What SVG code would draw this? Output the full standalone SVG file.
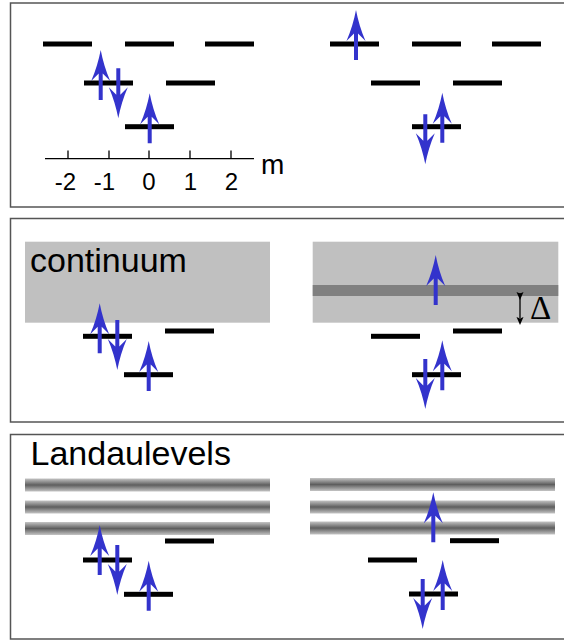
<svg xmlns="http://www.w3.org/2000/svg" xmlns:xlink="http://www.w3.org/1999/xlink" width="564" height="640" viewBox="0 0 564 640">
<style>
.frame{fill:#fff;stroke:#555;stroke-width:1.5}
.lvl{fill:#000}
.spin{fill:#3333cc}
.cont{fill:#c0c0c0}
.band{fill:url(#bandGrad)}
.lbl{font-family:"Liberation Sans",Arial,sans-serif;fill:#000}
.axis{stroke:#000;stroke-width:1.3;fill:none}
</style>
<defs>
<linearGradient id="bandGrad" x1="0" y1="0" x2="0" y2="1">
<stop offset="0" stop-color="#c4c4c4"/>
<stop offset="0.5" stop-color="#5e5e5e"/>
<stop offset="1" stop-color="#c4c4c4"/>
</linearGradient>
<path id="up" d="M0,0 C2,10 5,21 9.5,31 L2,23.5 L2,50 L-2,50 L-2,23.5 L-9.5,31 C-5,21 -2,10 0,0 Z"/>
<marker id="sh" viewBox="0 0 8 10" refX="1" refY="5" markerWidth="8" markerHeight="10" markerUnits="userSpaceOnUse" orient="auto">
<path d="M0,1.5 L8,5 L0,8.5 L1.5,5 Z" fill="#000"/>
</marker>
</defs>
<rect class="frame" x="10.5" y="3" width="560" height="204"/>
<rect class="frame" x="10.5" y="218.5" width="560" height="203.5"/>
<rect class="frame" x="10.5" y="434.5" width="560" height="204.5"/>

<g id="panel1-left">
<rect class="lvl" x="43" y="41.5" width="49" height="5"/>
<rect class="lvl" x="125" y="41.5" width="49" height="5"/>
<rect class="lvl" x="205" y="41.5" width="49" height="5"/>
<rect class="lvl" x="84" y="80.5" width="49" height="5"/>
<rect class="lvl" x="166" y="80.5" width="49" height="5"/>
<rect class="lvl" x="125" y="124.2" width="49" height="5"/>
<use href="#up" class="spin" transform="translate(100.7,50)"/>
<use href="#up" class="spin" transform="translate(118.3,118.3) rotate(180)"/>
<use href="#up" class="spin" transform="translate(149.7,93.3)"/>
</g>
<g id="axis">
<path class="axis" d="M45,158.7 H254 M68,150.5 V158.7 M109,150.5 V158.7 M149,150.5 V158.7 M190,150.5 V158.7 M231,150.5 V158.7"/>
<g class="lbl" font-size="24" text-anchor="middle">
<text x="65.5" y="189.5">-2</text>
<text x="104.5" y="189.5">-1</text>
<text x="149" y="189.5">0</text>
<text x="190.5" y="189.5">1</text>
<text x="231.5" y="189.5">2</text>
</g>
<text class="lbl" x="261" y="173.5" font-size="28">m</text>
</g>
<g id="panel1-right">
<rect class="lvl" x="330" y="41.5" width="49" height="5"/>
<rect class="lvl" x="412" y="41.5" width="49" height="5"/>
<rect class="lvl" x="492" y="41.5" width="49" height="5"/>
<rect class="lvl" x="371" y="80.5" width="49" height="5"/>
<rect class="lvl" x="453" y="80.5" width="49" height="5"/>
<rect class="lvl" x="412" y="124.2" width="49" height="5"/>
<use href="#up" class="spin" transform="translate(356,10)"/>
<use href="#up" class="spin" transform="translate(425.3,164.3) rotate(180)"/>
<use href="#up" class="spin" transform="translate(442.3,92.7)"/>
</g>

<g id="panel2-left">
<rect class="cont" x="25" y="241.7" width="245" height="81"/>
<text class="lbl" x="30" y="271.5" font-size="34">continuum</text>
<rect class="lvl" x="83" y="333.8" width="49" height="5"/>
<rect class="lvl" x="165" y="328.5" width="49" height="5"/>
<rect class="lvl" x="124" y="372.2" width="49" height="5"/>
<use href="#up" class="spin" transform="translate(99.7,303.3)"/>
<use href="#up" class="spin" transform="translate(117.3,370) rotate(180)"/>
<use href="#up" class="spin" transform="translate(148.7,341)"/>
</g>
<g id="panel2-right">
<rect class="cont" x="312.7" y="241.7" width="245.6" height="81"/>
<rect fill="#808080" x="312.7" y="285" width="245.6" height="11"/>
<line x1="520" y1="293" x2="520" y2="318" stroke="#000" stroke-width="1.3" marker-start="url(#sh)" marker-end="url(#sh)"/>
<text x="530" y="318.5" font-family="'Liberation Serif','Times New Roman',serif" font-size="33" fill="#000">Δ</text>
<rect class="lvl" x="371" y="333.8" width="49" height="5"/>
<rect class="lvl" x="453" y="328.5" width="49" height="5"/>
<rect class="lvl" x="412" y="372.2" width="49" height="5"/>
<use href="#up" class="spin" transform="translate(435.7,255)"/>
<use href="#up" class="spin" transform="translate(425.3,409) rotate(180)"/>
<use href="#up" class="spin" transform="translate(442.3,340.3)"/>
</g>

<g id="panel3-left">
<text class="lbl" x="30.5" y="465" font-size="34">Landaulevels</text>
<rect class="band" x="25" y="478.5" width="245" height="13"/>
<rect class="band" x="25" y="500.5" width="245" height="13"/>
<rect class="band" x="25" y="522" width="245" height="13"/>
<rect class="lvl" x="83" y="557.5" width="49" height="5"/>
<rect class="lvl" x="165" y="538.5" width="49" height="5"/>
<rect class="lvl" x="124" y="591.8" width="49" height="5"/>
<use href="#up" class="spin" transform="translate(99.7,525)"/>
<use href="#up" class="spin" transform="translate(117.3,595) rotate(180)"/>
<use href="#up" class="spin" transform="translate(148.7,560.7)"/>
</g>
<g id="panel3-right">
<rect class="band" x="310" y="478" width="245" height="13"/>
<rect class="band" x="310" y="500.5" width="245" height="13"/>
<rect class="band" x="310" y="521.5" width="245" height="13"/>
<rect class="lvl" x="368" y="557.5" width="49" height="5"/>
<rect class="lvl" x="450" y="538.2" width="49" height="5"/>
<rect class="lvl" x="409" y="591.5" width="49" height="5"/>
<use href="#up" class="spin" transform="translate(433.3,492.3)"/>
<use href="#up" class="spin" transform="translate(422.7,629) rotate(180)"/>
<use href="#up" class="spin" transform="translate(442.7,560)"/>
</g>
<g id="connectors"/>
</svg>
